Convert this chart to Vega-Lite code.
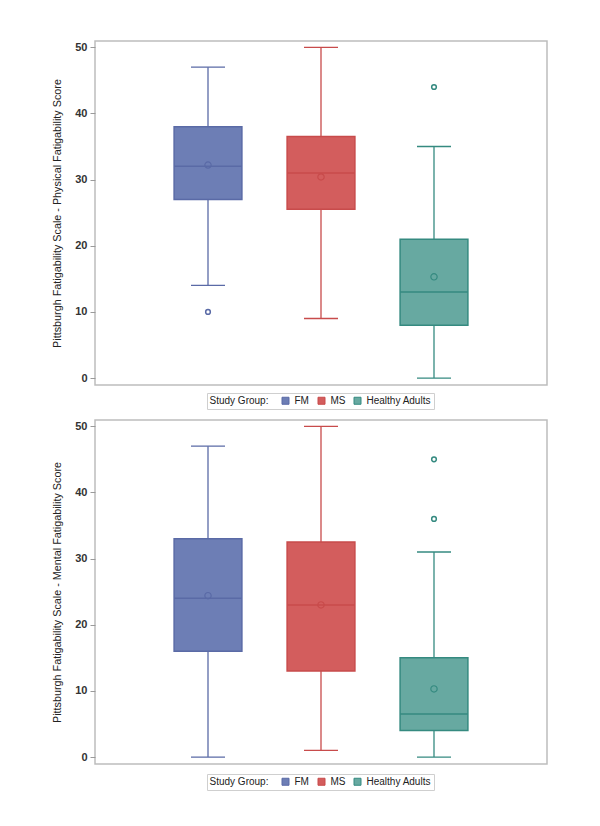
{
  "$schema": "https://vega.github.io/schema/vega-lite/v6.json",
  "background": "white",
  "padding": {"top": 40, "left": 51, "right": 4, "bottom": 4},
  "spacing": 8,
  "datasets": {
    "stats": [
      {"panel": "Physical", "group": "FM", "lo": 14, "q1": 27, "med": 32, "q3": 38, "hi": 47, "mean": 32.2},
      {"panel": "Physical", "group": "MS", "lo": 9, "q1": 25.5, "med": 31, "q3": 36.5, "hi": 50, "mean": 30.4},
      {"panel": "Physical", "group": "Healthy Adults", "lo": 0, "q1": 8, "med": 13, "q3": 21, "hi": 35, "mean": 15.3},
      {"panel": "Mental", "group": "FM", "lo": 0, "q1": 16, "med": 24, "q3": 33, "hi": 47, "mean": 24.4},
      {"panel": "Mental", "group": "MS", "lo": 1, "q1": 13, "med": 23, "q3": 32.5, "hi": 50, "mean": 23.0},
      {"panel": "Mental", "group": "Healthy Adults", "lo": 0, "q1": 4, "med": 6.5, "q3": 15, "hi": 31, "mean": 10.3}
    ],
    "outliers": [
      {"panel": "Physical", "group": "FM", "value": 10},
      {"panel": "Physical", "group": "Healthy Adults", "value": 44},
      {"panel": "Mental", "group": "Healthy Adults", "value": 45},
      {"panel": "Mental", "group": "Healthy Adults", "value": 36}
    ]
  },
  "config": {
    "font": "Liberation Sans",
    "view": {"stroke": "#bdbdbd", "strokeWidth": 1.5},
    "axis": {"labelFont": "Liberation Sans", "titleFont": "Liberation Sans"},
    "legend": {"labelFont": "Liberation Sans", "titleFont": "Liberation Sans"}
  },
  "resolve": {"scale": {"fill": "independent", "stroke": "independent", "y": "independent"}, "legend": {"fill": "independent", "stroke": "independent"}},
  "vconcat": [
    {
      "width": 452,
      "height": 344,
      "data": {"name": "stats"},
      "transform": [{"filter": "datum.panel === 'Physical'"}],
      "encoding": {
        "x": {"field": "group", "type": "nominal", "axis": null,
              "scale": {"type": "band", "domain": ["FM", "MS", "Healthy Adults"], "paddingInner": 0, "paddingOuter": 0.5}}
      },
      "layer": [
        {
          "mark": {"type": "rule", "strokeWidth": 1.3},
          "encoding": {
            "y": {"field": "lo", "type": "quantitative",
                  "scale": {"domain": [-1.05, 50.95], "nice": false, "zero": false},
                  "axis": {"title": "Pittsburgh Fatigability Scale - Physical Fatigability Score", "values": [0, 10, 20, 30, 40, 50], "domain": false, "grid": false, "tickColor": "#9a9a9a", "tickSize": 5, "labelFontSize": 11, "labelColor": "#333333", "labelFontWeight": "bold", "labelPadding": 3, "titleFontSize": 10.8, "titleFontWeight": "normal", "titleColor": "#222222", "titlePadding": 12}},
            "y2": {"field": "hi"},
            "stroke": {"field": "group", "type": "nominal",
                       "scale": {"domain": ["FM", "MS", "Healthy Adults"], "range": ["#5a6aa6", "#c84b4b", "#358a80"]}}
          }
        },
        {
          "mark": {"type": "rule", "strokeWidth": 1.3, "xOffset": -17, "x2Offset": 17},
          "encoding": {
            "x": {"field": "group", "type": "nominal", "bandPosition": 0.5},
            "x2": {"field": "group", "bandPosition": 0.5},
            "y": {"field": "lo", "type": "quantitative"},
            "stroke": {"field": "group", "type": "nominal"}
          }
        },
        {
          "mark": {"type": "rule", "strokeWidth": 1.3, "xOffset": -17, "x2Offset": 17},
          "encoding": {
            "x": {"field": "group", "type": "nominal", "bandPosition": 0.5},
            "x2": {"field": "group", "bandPosition": 0.5},
            "y": {"field": "hi", "type": "quantitative"},
            "stroke": {"field": "group", "type": "nominal"}
          }
        },
        {
          "mark": {"type": "bar", "width": {"band": 0.6}, "strokeWidth": 1.5},
          "encoding": {
            "y": {"field": "q1", "type": "quantitative"},
            "y2": {"field": "q3"},
            "fill": {"field": "group", "type": "nominal",
                     "scale": {"domain": ["FM", "MS", "Healthy Adults"], "range": ["#6d7eb5", "#d35d5d", "#67a9a1"]},
                     "legend": {"title": "Study Group:", "orient": "none", "legendX": 112, "legendY": 352, "direction": "horizontal", "titleOrient": "left", "columns": 3, "symbolType": "square", "symbolSize": 49, "symbolStrokeWidth": 1, "labelFontSize": 10, "titleFontSize": 10, "titleFontWeight": "normal", "titleColor": "#222222", "labelColor": "#222222", "titlePadding": 12, "columnPadding": 6, "labelOffset": 4, "padding": 2.5, "strokeColor": "#cfcfcf", "fillColor": "white"}},
            "stroke": {"field": "group", "type": "nominal",
                     "legend": {"title": "Study Group:", "orient": "none", "legendX": 112, "legendY": 352, "direction": "horizontal", "titleOrient": "left", "columns": 3, "symbolType": "square", "symbolSize": 49, "symbolStrokeWidth": 1, "labelFontSize": 10, "titleFontSize": 10, "titleFontWeight": "normal", "titleColor": "#222222", "labelColor": "#222222", "titlePadding": 12, "columnPadding": 6, "labelOffset": 4, "padding": 2.5, "strokeColor": "#cfcfcf", "fillColor": "white"}}
          }
        },
        {
          "mark": {"type": "rule", "strokeWidth": 1.5, "xOffset": -34, "x2Offset": 34},
          "encoding": {
            "x": {"field": "group", "type": "nominal", "bandPosition": 0.5},
            "x2": {"field": "group", "bandPosition": 0.5},
            "y": {"field": "med", "type": "quantitative"},
            "stroke": {"field": "group", "type": "nominal"}
          }
        },
        {
          "mark": {"type": "point", "shape": "circle", "filled": false, "size": 40, "strokeWidth": 1.2, "opacity": 1},
          "encoding": {
            "y": {"field": "mean", "type": "quantitative"},
            "stroke": {"field": "group", "type": "nominal"}
          }
        },
        {
          "data": {"name": "outliers"},
          "transform": [{"filter": "datum.panel === 'Physical'"}],
          "mark": {"type": "point", "shape": "circle", "filled": false, "size": 22, "strokeWidth": 1.5, "opacity": 1},
          "encoding": {
            "y": {"field": "value", "type": "quantitative"},
            "stroke": {"field": "group", "type": "nominal"}
          }
        }
      ]
    },
    {
      "width": 452,
      "height": 344,
      "data": {"name": "stats"},
      "transform": [{"filter": "datum.panel === 'Mental'"}],
      "encoding": {
        "x": {"field": "group", "type": "nominal", "axis": null,
              "scale": {"type": "band", "domain": ["FM", "MS", "Healthy Adults"], "paddingInner": 0, "paddingOuter": 0.5}}
      },
      "layer": [
        {
          "mark": {"type": "rule", "strokeWidth": 1.3},
          "encoding": {
            "y": {"field": "lo", "type": "quantitative",
                  "scale": {"domain": [-1.05, 50.95], "nice": false, "zero": false},
                  "axis": {"title": "Pittsburgh Fatigability Scale - Mental Fatigability Score", "values": [0, 10, 20, 30, 40, 50], "domain": false, "grid": false, "tickColor": "#9a9a9a", "tickSize": 5, "labelFontSize": 11, "labelColor": "#333333", "labelFontWeight": "bold", "labelPadding": 3, "titleFontSize": 10.8, "titleFontWeight": "normal", "titleColor": "#222222", "titlePadding": 12}},
            "y2": {"field": "hi"},
            "stroke": {"field": "group", "type": "nominal",
                       "scale": {"domain": ["FM", "MS", "Healthy Adults"], "range": ["#5a6aa6", "#c84b4b", "#358a80"]}}
          }
        },
        {
          "mark": {"type": "rule", "strokeWidth": 1.3, "xOffset": -17, "x2Offset": 17},
          "encoding": {
            "x": {"field": "group", "type": "nominal", "bandPosition": 0.5},
            "x2": {"field": "group", "bandPosition": 0.5},
            "y": {"field": "lo", "type": "quantitative"},
            "stroke": {"field": "group", "type": "nominal"}
          }
        },
        {
          "mark": {"type": "rule", "strokeWidth": 1.3, "xOffset": -17, "x2Offset": 17},
          "encoding": {
            "x": {"field": "group", "type": "nominal", "bandPosition": 0.5},
            "x2": {"field": "group", "bandPosition": 0.5},
            "y": {"field": "hi", "type": "quantitative"},
            "stroke": {"field": "group", "type": "nominal"}
          }
        },
        {
          "mark": {"type": "bar", "width": {"band": 0.6}, "strokeWidth": 1.5},
          "encoding": {
            "y": {"field": "q1", "type": "quantitative"},
            "y2": {"field": "q3"},
            "fill": {"field": "group", "type": "nominal",
                     "scale": {"domain": ["FM", "MS", "Healthy Adults"], "range": ["#6d7eb5", "#d35d5d", "#67a9a1"]},
                     "legend": {"title": "Study Group:", "orient": "none", "legendX": 112, "legendY": 354, "direction": "horizontal", "titleOrient": "left", "columns": 3, "symbolType": "square", "symbolSize": 49, "symbolStrokeWidth": 1, "labelFontSize": 10, "titleFontSize": 10, "titleFontWeight": "normal", "titleColor": "#222222", "labelColor": "#222222", "titlePadding": 12, "columnPadding": 6, "labelOffset": 4, "padding": 2.5, "strokeColor": "#cfcfcf", "fillColor": "white"}},
            "stroke": {"field": "group", "type": "nominal",
                     "legend": {"title": "Study Group:", "orient": "none", "legendX": 112, "legendY": 354, "direction": "horizontal", "titleOrient": "left", "columns": 3, "symbolType": "square", "symbolSize": 49, "symbolStrokeWidth": 1, "labelFontSize": 10, "titleFontSize": 10, "titleFontWeight": "normal", "titleColor": "#222222", "labelColor": "#222222", "titlePadding": 12, "columnPadding": 6, "labelOffset": 4, "padding": 2.5, "strokeColor": "#cfcfcf", "fillColor": "white"}}
          }
        },
        {
          "mark": {"type": "rule", "strokeWidth": 1.5, "xOffset": -34, "x2Offset": 34},
          "encoding": {
            "x": {"field": "group", "type": "nominal", "bandPosition": 0.5},
            "x2": {"field": "group", "bandPosition": 0.5},
            "y": {"field": "med", "type": "quantitative"},
            "stroke": {"field": "group", "type": "nominal"}
          }
        },
        {
          "mark": {"type": "point", "shape": "circle", "filled": false, "size": 40, "strokeWidth": 1.2, "opacity": 1},
          "encoding": {
            "y": {"field": "mean", "type": "quantitative"},
            "stroke": {"field": "group", "type": "nominal"}
          }
        },
        {
          "data": {"name": "outliers"},
          "transform": [{"filter": "datum.panel === 'Mental'"}],
          "mark": {"type": "point", "shape": "circle", "filled": false, "size": 22, "strokeWidth": 1.5, "opacity": 1},
          "encoding": {
            "y": {"field": "value", "type": "quantitative"},
            "stroke": {"field": "group", "type": "nominal"}
          }
        }
      ]
    }
  ]
}
